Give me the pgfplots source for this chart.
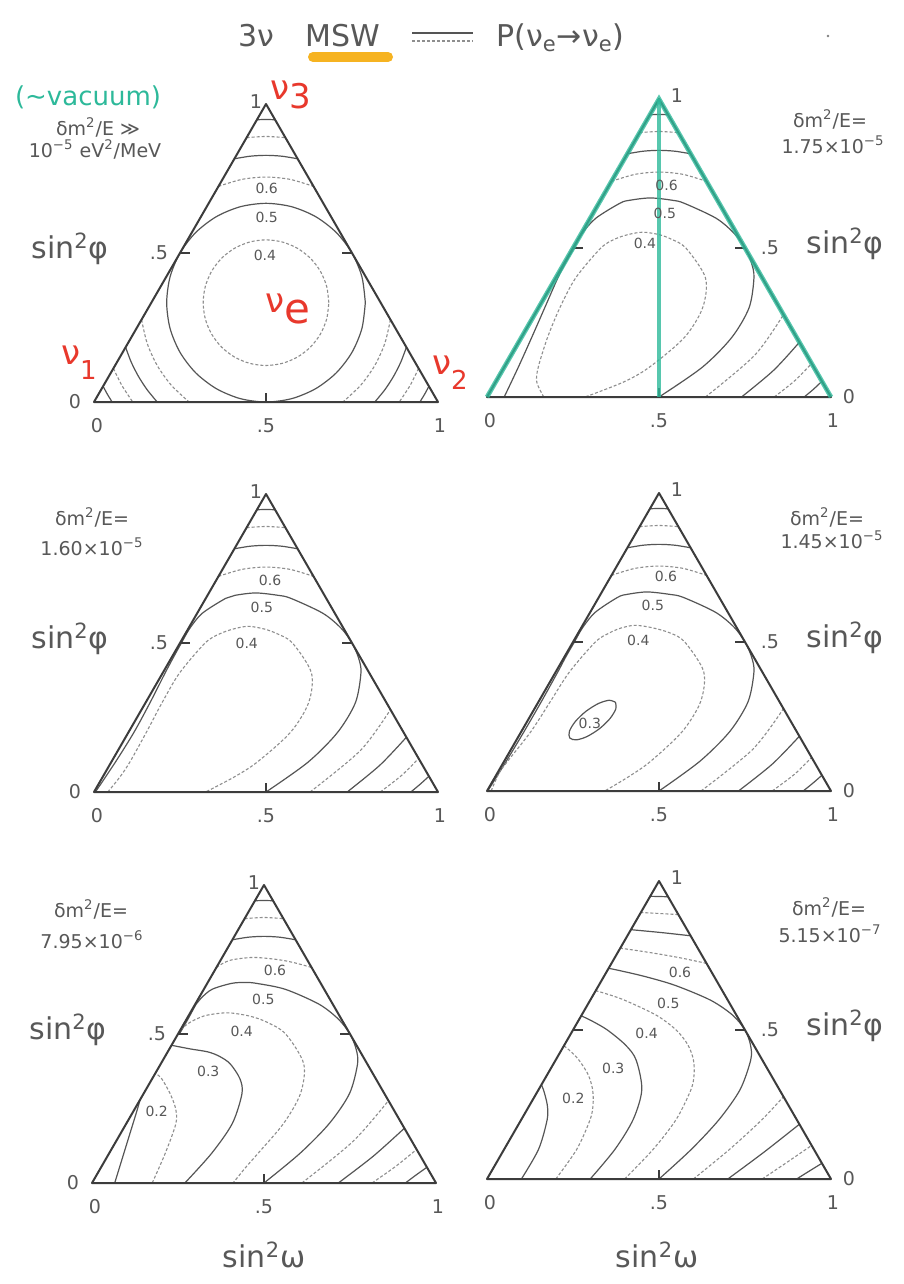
\documentclass[border=0pt]{standalone}
\usepackage{fontspec}
\setmainfont{DejaVu Sans}
\usepackage{pgfplots}
\pgfplotsset{compat=1.18}

\definecolor{edgec}{HTML}{3C3C3C}
\definecolor{solc}{HTML}{555555}
\definecolor{dotc}{HTML}{8E8E8E}
\definecolor{txtc}{HTML}{585858}
\definecolor{penred}{HTML}{E8382C}
\definecolor{penteal}{HTML}{2DB99A}
\definecolor{hilite}{HTML}{F6B321}

\pgfplotsset{
  tern/.style={width=172pt,height=149pt,scale only axis,
    xmin=0,xmax=1,ymin=0,ymax=1,hide axis,clip=false,anchor=south west},
  tri/.style={no marks,color=edgec,line width=1pt,line join=round},
  tk/.style={no marks,color=edgec,line width=0.7pt},
  sol/.style={no marks,color=solc,line width=0.6pt,smooth},
  dot/.style={no marks,color=dotc,line width=0.55pt,smooth,dash pattern=on 1.5pt off 1pt},
  pen/.style={no marks,color=penteal,line width=2.3pt,opacity=0.8},
}
\tikzset{
  tl/.style={font=\fontsize{9.5}{11}\selectfont,text=txtc,inner sep=0pt,anchor=center},
  axl/.style={font=\fontsize{15}{18}\selectfont,text=txtc,inner sep=0pt,anchor=mid},
  cl/.style={font=\fontsize{7}{8}\selectfont,text=txtc,inner sep=0pt,anchor=center},
  note/.style={font=\fontsize{9.5}{11}\selectfont,text=txtc,inner sep=0pt,anchor=mid},
  hand/.style={font=\fontsize{17}{20}\selectfont,text=penred,inner sep=0pt,anchor=center},
}
\newcommand\sq{\textsuperscript{2}}

% triangle outline and the .5 ticks on its three sides
\newcommand\frameticks{%
  \addplot[tri] coordinates {(0,0) (1,0) (0.5,1)} -- cycle;
  \addplot[tk] coordinates {(0.5,0) (0.5,0.03)};
  \addplot[tk] coordinates {(0.25,0.5) (0.28,0.5)};
  \addplot[tk] coordinates {(0.75,0.5) (0.72,0.5)};
}
% P = 0.7, 0.8, 0.9 near the nu_3 corner
\newcommand\apexhigh{%
  \addplot[sol] coordinates {(0.4081,0.8162) (0.4538,0.8248) (0.5,0.8277) (0.5462,0.8248) (0.5919,0.8162)};
  \addplot[dot] coordinates {(0.4436,0.8872) (0.5,0.8910) (0.5564,0.8872)};
  \addplot[sol] coordinates {(0.4737,0.9472) (0.5,0.9480) (0.5263,0.9472)};
}
% P = 0.6 near the nu_3 corner
\newcommand\apexsix{%
  \addplot[dot] coordinates {(0.3618,0.7235) (0.4297,0.7470) (0.5,0.7549) (0.5703,0.7470) (0.6382,0.7235)};
}
\newcommand\baselabels{%
  \node[tl,xshift=1.5pt,yshift=-12pt] at (axis cs:0,0) {0};
  \node[tl,yshift=-12pt] at (axis cs:0.5,0) {.5};
  \node[tl,xshift=1pt,yshift=-12pt] at (axis cs:1,0) {1};
}
\newcommand\leftlabels{%
  \node[tl,xshift=-9.5pt] at (axis cs:0,0) {0};
  \node[tl,xshift=-10.5pt] at (axis cs:0.25,0.5) {.5};
  \node[tl,xshift=-5pt,yshift=1pt] at (axis cs:0.5,1) {1};
  \node[axl,xshift=-55pt] at (axis cs:0.25,0.5) {sin\sq φ};
}
\newcommand\rightlabels{%
  \node[tl,xshift=9pt] at (axis cs:1,0) {0};
  \node[tl,xshift=12.5pt] at (axis cs:0.75,0.5) {.5};
  \node[tl,xshift=9pt,yshift=1.5pt] at (axis cs:0.5,1) {1};
  \node[axl,xshift=50pt] at (axis cs:0.75,0.5) {sin\sq φ};
}

\begin{document}
\begin{tikzpicture}
\fill[white] (0,0) rectangle (452pt,-642pt);
\path[use as bounding box] (0,0) rectangle (452pt,-642pt);

%% ---------- vacuum ----------
\begin{axis}[tern,at={(47pt,-201pt)}]
  \addplot[dot] coordinates {(0.6826,0.3333) (0.6764,0.3879) (0.6581,0.4387) (0.6291,0.4824) (0.5913,0.5159) (0.5473,0.5369) (0.5,0.5441) (0.4527,0.5369) (0.4087,0.5159) (0.3709,0.4824) (0.3419,0.4387) (0.3236,0.3879) (0.3174,0.3333) (0.3236,0.2787) (0.3419,0.2279) (0.3709,0.1842) (0.4087,0.1507) (0.4527,0.1297) (0.5,0.1225) (0.5473,0.1297) (0.5913,0.1507) (0.6291,0.1842) (0.6581,0.2279) (0.6764,0.2787) (0.6826,0.3333)};
  \addplot[sol] coordinates {(0.7887,0.3333) (0.7789,0.4196) (0.7500,0.5000) (0.7041,0.5690) (0.6443,0.6220) (0.5747,0.6553) (0.5,0.6667) (0.4253,0.6553) (0.3557,0.6220) (0.2959,0.5690) (0.2500,0.5000) (0.2211,0.4196) (0.2113,0.3333) (0.2211,0.2470) (0.2500,0.1667) (0.2959,0.0976) (0.3557,0.0447) (0.4253,0.0113) (0.5,0.0) (0.5747,0.0113) (0.6443,0.0447) (0.7041,0.0976) (0.7500,0.1667) (0.7789,0.2470) (0.7887,0.3333)};
  \apexsix
  \apexhigh
  \addplot[dot] coordinates {(0.1383,0.2764) (0.1546,0.1967) (0.1838,0.1225) (0.2249,0.0561) (0.2765,0)};
  \addplot[sol] coordinates {(0.0919,0.1837) (0.1082,0.1338) (0.1292,0.0861) (0.1544,0.0413) (0.1838,0)};
  \addplot[dot] coordinates {(0.0564,0.1127) (0.0817,0.0544) (0.1127,0)};
  \addplot[sol] coordinates {(0.0264,0.0526) (0.0390,0.0259) (0.0527,0)};
  \addplot[dot] coordinates {(0.8617,0.2764) (0.8454,0.1967) (0.8162,0.1225) (0.7751,0.0561) (0.7235,0)};
  \addplot[sol] coordinates {(0.9081,0.1837) (0.8918,0.1338) (0.8708,0.0861) (0.8456,0.0413) (0.8162,0)};
  \addplot[dot] coordinates {(0.9436,0.1127) (0.9183,0.0544) (0.8873,0)};
  \addplot[sol] coordinates {(0.9736,0.0526) (0.9610,0.0259) (0.9473,0)};
  \frameticks
  \leftlabels
  \baselabels
  \node[cl] at (axis cs:0.502,0.717) {0.6};
  \node[cl] at (axis cs:0.502,0.620) {0.5};
  \node[cl] at (axis cs:0.497,0.493) {0.4};
\end{axis}

%% ---------- 1.75e-5 ----------
\begin{axis}[tern,at={(243.5pt,-198.5pt)}]
  \apexsix
  \apexhigh
  \addplot[dot] coordinates {(0.635,0) (0.778,0.14) (0.8618,0.2764)};
  \addplot[sol] coordinates {(0.74,0) (0.8335,0.09) (0.9081,0.1838)};
  \addplot[dot] coordinates {(0.835,0) (0.896,0.056) (0.9437,0.1127)};
  \addplot[sol] coordinates {(0.922,0) (0.949,0.026) (0.9736,0.0528)};
  \addplot[sol] coordinates {(0.05,0) (0.091,0.1) (0.130,0.2) (0.168,0.3) (0.206,0.4) (0.228,0.45) (0.253,0.5) (0.2775,0.55) (0.3164,0.6) (0.386,0.65) (0.414,0.66) (0.475,0.668) (0.540,0.66) (0.5735,0.65) (0.6658,0.6) (0.7176,0.55) (0.75,0.5) (0.7687,0.45) (0.776,0.4) (0.762,0.3) (0.7116,0.2) (0.626,0.1) (0.5,0)};
  \addplot[dot] coordinates {(0.165,0) (0.1447,0.05) (0.149,0.1) (0.176,0.2) (0.212,0.3) (0.258,0.4) (0.331,0.5) (0.372,0.53) (0.41,0.545) (0.453,0.553) (0.50,0.545) (0.535,0.53) (0.578,0.5) (0.635,0.4) (0.627,0.3) (0.574,0.2) (0.472,0.1) (0.3965,0.05) (0.285,0)};
  \frameticks
  \addplot[pen] coordinates {(0,0) (0.5,1) (1,0)};
  \addplot[pen] coordinates {(0.5,1) (0.5,0)};
  \rightlabels
  \baselabels
  \node[cl] at (axis cs:0.522,0.711) {0.6};
  \node[cl] at (axis cs:0.517,0.616) {0.5};
  \node[cl] at (axis cs:0.459,0.516) {0.4};
\end{axis}

%% ---------- 1.60e-5 ----------
\begin{axis}[tern,at={(47pt,-396pt)}]
  \apexsix
  \apexhigh
  \addplot[dot] coordinates {(0.628,0) (0.775,0.14) (0.8618,0.2764)};
  \addplot[sol] coordinates {(0.736,0) (0.831,0.09) (0.9081,0.1838)};
  \addplot[dot] coordinates {(0.832,0) (0.8945,0.056) (0.9437,0.1127)};
  \addplot[sol] coordinates {(0.921,0) (0.948,0.026) (0.9736,0.0528)};
  \addplot[sol] coordinates {(0.004,0) (0.062,0.1) (0.116,0.2) (0.163,0.3) (0.207,0.4) (0.23,0.45) (0.254,0.5) (0.279,0.55) (0.315,0.6) (0.383,0.65) (0.41,0.66) (0.47,0.668) (0.535,0.66) (0.572,0.65) (0.665,0.6) (0.718,0.55) (0.75,0.5) (0.769,0.45) (0.776,0.4) (0.76,0.3) (0.708,0.2) (0.622,0.1) (0.5,0)};
  \addplot[dot] coordinates {(0.04,0) (0.075,0.05) (0.104,0.1) (0.152,0.2) (0.198,0.3) (0.249,0.4) (0.323,0.5) (0.364,0.53) (0.405,0.547) (0.448,0.556) (0.495,0.547) (0.5346,0.53) (0.577,0.5) (0.632,0.4) (0.624,0.3) (0.571,0.2) (0.474,0.1) (0.407,0.05) (0.3245,0)};
  \frameticks
  \leftlabels
  \baselabels
  \node[cl] at (axis cs:0.512,0.711) {0.6};
  \node[cl] at (axis cs:0.488,0.620) {0.5};
  \node[cl] at (axis cs:0.444,0.499) {0.4};
\end{axis}

%% ---------- 1.45e-5 ----------
\begin{axis}[tern,at={(243.5pt,-395.5pt)}]
  \apexsix
  \apexhigh
  \addplot[dot] coordinates {(0.622,0) (0.7726,0.14) (0.8618,0.2764)};
  \addplot[sol] coordinates {(0.731,0) (0.829,0.09) (0.9081,0.1838)};
  \addplot[dot] coordinates {(0.829,0) (0.8937,0.056) (0.9437,0.1127)};
  \addplot[sol] coordinates {(0.919,0) (0.947,0.026) (0.9736,0.0528)};
  \addplot[sol] coordinates {(0.002,0) (0.056,0.1) (0.108,0.2) (0.158,0.3) (0.206,0.4) (0.229,0.45) (0.254,0.5) (0.279,0.55) (0.315,0.6) (0.38,0.65) (0.408,0.66) (0.465,0.668) (0.53,0.66) (0.57,0.65) (0.664,0.6) (0.718,0.55) (0.75,0.5) (0.769,0.45) (0.776,0.4) (0.759,0.3) (0.706,0.2) (0.619,0.1) (0.5,0)};
  \addplot[dot] coordinates {(0.012,0) (0.035,0.06) (0.06,0.1) (0.128,0.2) (0.184,0.3) (0.240,0.4) (0.315,0.5) (0.355,0.53) (0.39,0.547) (0.43,0.556) (0.48,0.548) (0.533,0.53) (0.575,0.5) (0.630,0.4) (0.621,0.3) (0.568,0.2) (0.476,0.1) (0.4145,0.05) (0.3425,0)};
  \addplot[sol] coordinates {(0.3734,0.2979) (0.3744,0.2754) (0.3573,0.2428) (0.3267,0.2089) (0.2908,0.1828) (0.2593,0.1716) (0.2406,0.1781) (0.2396,0.2006) (0.2567,0.2332) (0.2873,0.2671) (0.3232,0.2932) (0.3547,0.3044) (0.3734,0.2979)};
  \frameticks
  \rightlabels
  \baselabels
  \node[cl] at (axis cs:0.520,0.721) {0.6};
  \node[cl] at (axis cs:0.482,0.624) {0.5};
  \node[cl] at (axis cs:0.440,0.507) {0.4};
  \node[cl] at (axis cs:0.299,0.227) {0.3};
\end{axis}

%% ---------- 7.95e-6 ----------
\begin{axis}[tern,at={(46pt,-591.5pt)}]
  \addplot[dot] coordinates {(0.3618,0.7235) (0.385,0.74) (0.4115,0.75) (0.47,0.757) (0.5386,0.75) (0.585,0.74) (0.6382,0.7235)};
  \apexhigh
  \addplot[dot] coordinates {(0.61,0) (0.759,0.14) (0.8618,0.2764)};
  \addplot[sol] coordinates {(0.716,0) (0.8176,0.09) (0.9081,0.1838)};
  \addplot[dot] coordinates {(0.814,0) (0.883,0.056) (0.9437,0.1127)};
  \addplot[sol] coordinates {(0.911,0) (0.941,0.026) (0.9736,0.0528)};
  \addplot[sol] coordinates {(0.5,0) (0.605,0.1) (0.69,0.2) (0.7485,0.3) (0.772,0.4) (0.7676,0.45) (0.75,0.5) (0.7162,0.55) (0.66,0.6) (0.562,0.65) (0.478,0.67) (0.446,0.673) (0.406,0.67) (0.349,0.65) (0.3167,0.62) (0.3026,0.6) (0.279,0.55) (0.254,0.5)};
  \addplot[dot] coordinates {(0.257,0.515) (0.286,0.54) (0.324,0.56) (0.36,0.568) (0.40,0.571) (0.459,0.56) (0.508,0.54) (0.563,0.5) (0.6155,0.4) (0.606,0.3) (0.557,0.2) (0.483,0.1) (0.445,0.05) (0.41,0)};
  \addplot[sol] coordinates {(0.27,0) (0.348,0.1) (0.408,0.2) (0.436,0.3) (0.430,0.35) (0.4016,0.4) (0.3706,0.425) (0.337,0.44) (0.2855,0.45) (0.232,0.462)};
  \addplot[dot] coordinates {(0.175,0) (0.213,0.1) (0.244,0.2) (0.243,0.25) (0.227,0.3) (0.2026,0.35) (0.185,0.368)};
  \addplot[sol] coordinates {(0.066,0) (0.09,0.09) (0.114,0.18) (0.13,0.24) (0.14,0.28)};
  \frameticks
  \leftlabels
  \baselabels
  \node[cl] at (axis cs:0.532,0.715) {0.6};
  \node[cl] at (axis cs:0.498,0.616) {0.5};
  \node[cl] at (axis cs:0.435,0.508) {0.4};
  \node[cl] at (axis cs:0.338,0.373) {0.3};
  \node[cl] at (axis cs:0.188,0.239) {0.2};
\end{axis}

%% ---------- 5.15e-7 ----------
\begin{axis}[tern,at={(243.5pt,-589.5pt)}]
  \addplot[dot] coordinates {(0.6382,0.7236) (0.5715,0.74) (0.525,0.75) (0.4733,0.76) (0.4159,0.77) (0.3873,0.7746)};
  \addplot[sol] coordinates {(0.5919,0.8162) (0.5234,0.825) (0.4803,0.83) (0.4183,0.8367)};
  \addplot[dot] coordinates {(0.5564,0.8873) (0.5015,0.891) (0.4472,0.8944)};
  \addplot[sol] coordinates {(0.5264,0.9472) (0.5,0.948) (0.4743,0.9487)};
  \addplot[dot] coordinates {(0.6,0) (0.7056,0.1) (0.8,0.2) (0.8618,0.2764)};
  \addplot[sol] coordinates {(0.7,0) (0.805,0.09) (0.9081,0.1838)};
  \addplot[dot] coordinates {(0.8,0) (0.872,0.056) (0.9437,0.1127)};
  \addplot[sol] coordinates {(0.9,0) (0.936,0.026) (0.9736,0.0528)};
  \addplot[sol] coordinates {(0.5,0) (0.5944,0.1) (0.675,0.2) (0.7357,0.3) (0.7667,0.4) (0.7659,0.45) (0.75,0.5) (0.7139,0.55) (0.65,0.6) (0.5464,0.65) (0.4575,0.68) (0.3833,0.7) (0.3536,0.707)};
  \addplot[dot] coordinates {(0.4,0) (0.4833,0.1) (0.55,0.2) (0.5929,0.3) (0.6019,0.35) (0.6,0.4) (0.5841,0.45) (0.55,0.5) (0.4917,0.55) (0.4,0.6) (0.351,0.62) (0.316,0.632)};
  \addplot[sol] coordinates {(0.3,0) (0.3722,0.1) (0.425,0.2) (0.45,0.3) (0.4333,0.4) (0.4023,0.45) (0.35,0.5) (0.3056,0.53) (0.2739,0.5477)};
  \addplot[dot] coordinates {(0.2,0) (0.2611,0.1) (0.3,0.2) (0.3083,0.25) (0.307,0.3) (0.2942,0.35) (0.2667,0.4) (0.2415,0.43) (0.2236,0.447)};
  \addplot[sol] coordinates {(0.1,0) (0.15,0.1) (0.175,0.2) (0.175,0.25) (0.164,0.3) (0.158,0.316)};
  \frameticks
  \rightlabels
  \baselabels
  \node[cl] at (axis cs:0.561,0.694) {0.6};
  \node[cl] at (axis cs:0.527,0.590) {0.5};
  \node[cl] at (axis cs:0.464,0.487) {0.4};
  \node[cl] at (axis cs:0.367,0.371) {0.3};
  \node[cl] at (axis cs:0.251,0.271) {0.2};
\end{axis}

%% ---------- texts (pixel grid) ----------
\begin{scope}[x=0.5pt,y=-0.5pt]
  % title with line-style key
  \draw[hilite,line width=5pt,line cap=round] (313,57) -- (388,57);
  \node[anchor=base west,font=\fontsize{15}{18}\selectfont,text=txtc,inner sep=0pt] at (238,47) {3ν};
  \node[anchor=base west,font=\fontsize{15}{18}\selectfont,text=txtc,inner sep=0pt] at (305,47) {MSW};
  \draw[solc,line width=0.6pt] (412,33) -- (473,33);
  \draw[dotc,line width=0.55pt,dash pattern=on 1.5pt off 1pt] (412,41) -- (473,41);
  \node[anchor=base west,font=\fontsize{15}{18}\selectfont,text=txtc,inner sep=0pt] at (496,47) {P(ν\textsubscript{e}→ν\textsubscript{e})};
  \fill[gray] (828,36) circle (1.3);

  % matter parameter of each panel
  \node[font=\fontsize{13}{15}\selectfont,text=penteal,inner sep=0pt,anchor=center] at (88,97) {(∼vacuum)};
  \node[note] at (98,130) {δm\sq/E ≫};
  \node[note] at (95,152) {10\textsuperscript{−5}\ eV\sq/MeV};
  \node[note] at (830,122) {δm\sq/E=};
  \node[note] at (833,148) {1.75×10\textsuperscript{−5}};
  \node[note] at (92,520) {δm\sq/E=};
  \node[note] at (92,550) {1.60×10\textsuperscript{−5}};
  \node[note] at (827,520) {δm\sq/E=};
  \node[note] at (832,543) {1.45×10\textsuperscript{−5}};
  \node[note] at (91,912) {δm\sq/E=};
  \node[note] at (92,943) {7.95×10\textsuperscript{−6}};
  \node[note] at (829,910) {δm\sq/E=};
  \node[note] at (830,937) {5.15×10\textsuperscript{−7}};

  % bottom axis titles
  \node[axl] at (264,1262) {sin\sq ω};
  \node[axl] at (657,1262) {sin\sq ω};

  % corner and centre annotations
  \node[hand] at (291,95) {ν\raisebox{-0.5ex}{3}};
  \node[hand] at (288,309) {ν\raisebox{-0.55ex}{\fontsize{21}{24}\selectfont e}};
  \node[hand] at (79,363) {ν\raisebox{-0.8ex}{\fontsize{13}{15}\selectfont 1}};
  \node[hand] at (450,373) {ν\raisebox{-0.8ex}{\fontsize{13}{15}\selectfont 2}};
\end{scope}
\end{tikzpicture}
\end{document}
